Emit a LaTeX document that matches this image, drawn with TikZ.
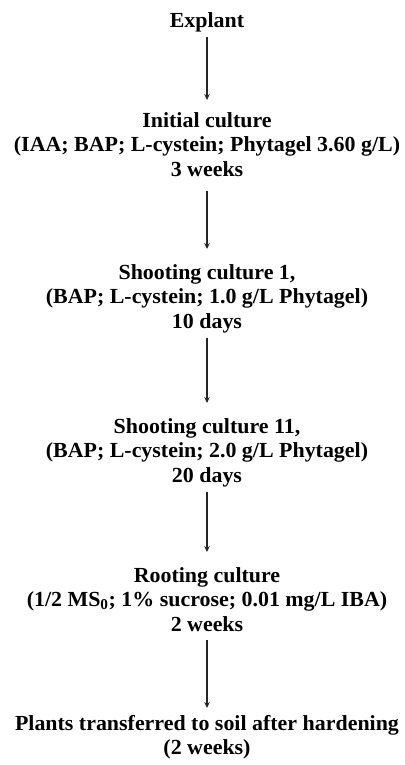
\documentclass[tikz,border=0pt]{standalone}
\usepackage{fontspec}
\setmainfont{Liberation Serif}[FakeStretch=1.02]
\usetikzlibrary{arrows.meta}
\begin{document}
\begin{tikzpicture}[x=1pt,y=1pt,
  stage/.style={align=center,inner sep=0pt,anchor=north,
    font=\bfseries\fontsize{21.5}{24.5}\selectfont},
  flow/.style={-{Stealth[length=6pt,width=5.5pt]},line width=1.4pt,
    draw=black!85,shorten <=5pt,shorten >=15pt}]
\useasboundingbox (0,0) rectangle (404,-765);

\node[stage] (explant) at (207,-12) {Explant};
\node[stage] (initial) at (207,-112)
  {Initial culture\\(IAA; BAP; L-cystein; Phytagel 3.60 g/L)\\3 weeks};
\node[stage] (shootA) at (207,-264)
  {Shooting culture 1,\\(BAP; L-cystein; 1.0 g/L Phytagel)\\10 days};
\node[stage] (shootB) at (207,-418)
  {Shooting culture 11,\\(BAP; L-cystein; 2.0 g/L Phytagel)\\20 days};
\node[stage] (rooting) at (207,-567)
  {Rooting culture\\(1/2 MS\textsubscript{0}; 1\% sucrose; 0.01 mg/L IBA)\\2 weeks};
\node[stage] (plants) at (207,-715)
  {Plants transferred to soil after hardening\\(2 weeks)};

\draw[flow,shorten >=12pt] (explant) -- (initial);
\draw[flow,shorten <=14pt] (initial) -- (shootA);
\draw[flow] (shootA) -- (shootB);
\draw[flow] (shootB) -- (rooting);
\draw[flow,shorten <=8pt,shorten >=7pt] (rooting) -- (plants);
\end{tikzpicture}
\end{document}
